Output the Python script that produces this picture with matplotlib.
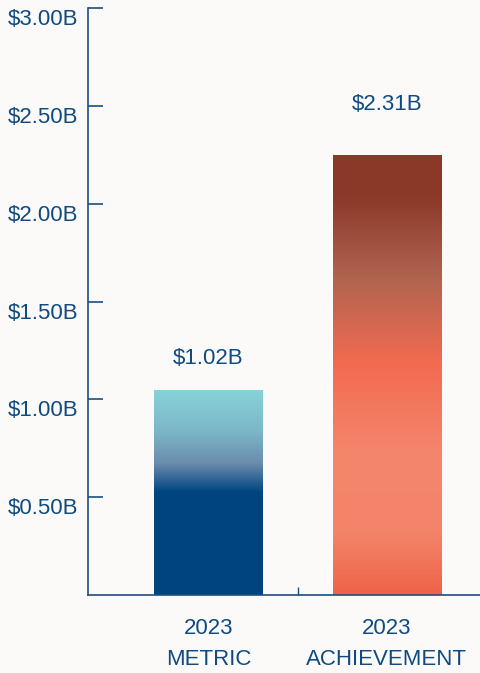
import numpy as np
import matplotlib
matplotlib.use("Agg")
import matplotlib.pyplot as plt
from matplotlib.colors import LinearSegmentedColormap
from matplotlib.patches import Rectangle
from matplotlib.transforms import ScaledTranslation

categories = ["2023\nMETRIC", "2023\nACHIEVEMENT"]
values = [1.05, 2.25]          # bar heights as drawn, in $B
value_labels = ["$1.02B", "$2.31B"]
yticks = [0.5, 1.0, 1.5, 2.0, 2.5, 3.0]
ytick_labels = ["$0.50B", "$1.00B", "$1.50B", "$2.00B", "$2.50B", "$3.00B"]

# gradient stops, top (0) -> bottom (1)
grad_metric = [(0.0, "#86d3d9"), (0.2, "#7db7c8"), (0.36, "#6a8cae"),
               (0.5, "#00457f"), (1.0, "#00447e")]
grad_achieve = [(0.0, "#8a3a2a"), (0.09, "#8a3828"), (0.28, "#b06450"),
                (0.47, "#f26a50"), (0.68, "#f4866c"), (0.86, "#f38469"),
                (1.0, "#ef6348")]
label_offset = [0.16, 0.255]

bg = "#fbfaf9"
txt = "#0f4a80"
fs = 16
plt.rcParams["font.family"] = ["Liberation Sans", "DejaVu Sans"]

fig = plt.figure(figsize=(4.81, 6.73), dpi=100, facecolor=bg)
ax = fig.add_axes([0.183, 0.116, 0.817, 0.872])
ax.set_facecolor(bg)

x = np.arange(len(categories))
width = 0.61
bars = ax.bar(x, values, width=width, color="none")
for bar, grad in zip(bars, [grad_metric, grad_achieve]):
    cmap = LinearSegmentedColormap.from_list("g", grad)
    x0, w, h = bar.get_x(), bar.get_width(), bar.get_height()
    im = ax.imshow(np.linspace(0, 1, 256).reshape(-1, 1), cmap=cmap,
                   aspect="auto", extent=[x0, x0 + w, 0, h], origin="upper",
                   interpolation="bilinear", zorder=2)
    clip = Rectangle((x0, 0), w, h, transform=ax.transData)
    im.set_clip_path(clip)

for xi, v, lab, off in zip(x, values, value_labels, label_offset):
    ax.text(xi, v + off, lab, ha="center", va="center", fontsize=fs, color=txt)

ax.set_xlim(-0.675, 1.527)
ax.set_ylim(0, 3.0)
ax.set_yticks(yticks)
ax.set_yticklabels(ytick_labels)
ax.set_xticks([0.5])
ax.set_xticklabels([""])
for xi, c in zip(x, categories):
    ax.text(xi, -0.12, c, ha="center", va="top", fontsize=fs, color=txt,
            linespacing=1.6)

for s in ["top", "right"]:
    ax.spines[s].set_visible(False)
for s in ["left", "bottom"]:
    ax.spines[s].set_color("#1d4f80")
    ax.spines[s].set_linewidth(1.2)
ax.tick_params(axis="y", direction="in", length=11, width=1.2, color="#1d4f80",
               labelsize=fs, labelcolor=txt, pad=7)
ax.tick_params(axis="x", direction="in", length=6, width=1, color="#1d4f80")
shift = ScaledTranslation(0, -0.09, fig.dpi_scale_trans)
for lab in ax.get_yticklabels():
    lab.set_transform(lab.get_transform() + shift)

fig.savefig("out.png", dpi=100, facecolor=bg)
